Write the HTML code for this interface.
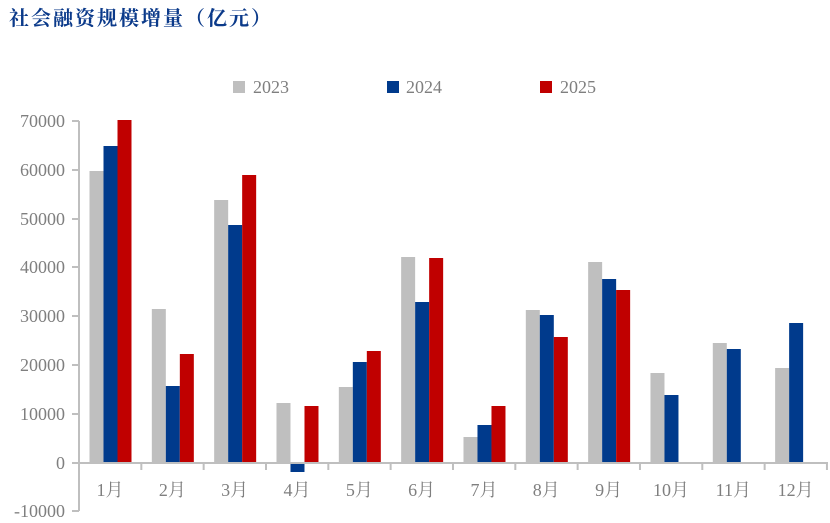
<!DOCTYPE html>
<html><head><meta charset="utf-8"><style>
body{margin:0;background:#fff;}
svg{display:block;}
text{font-family:"Liberation Serif","Noto Serif CJK SC",serif;fill:#7f7f7f;font-size:18px;}
</style></head><body>
<svg width="830" height="523" xmlns="http://www.w3.org/2000/svg">
<text x="9" y="25" style="font-family:'Liberation Serif','Noto Serif CJK SC',serif;font-size:20px;font-weight:bold;fill:#0b3a8a;letter-spacing:2px">社会融资规模增量（亿元）</text>
<rect x="233" y="81" width="12" height="12" fill="#bfbfbf"/><text x="253" y="93">2023</text>
<rect x="387" y="81" width="12" height="12" fill="#003a8c"/><text x="406" y="93">2024</text>
<rect x="540" y="81" width="12" height="12" fill="#c00000"/><text x="560" y="93">2025</text>
<g stroke="#bfbfbf" stroke-width="2" fill="none">
<line x1="79" y1="121" x2="79" y2="511"/>
<line x1="72" y1="121" x2="79" y2="121"/><line x1="72" y1="170" x2="79" y2="170"/><line x1="72" y1="219" x2="79" y2="219"/><line x1="72" y1="267" x2="79" y2="267"/><line x1="72" y1="316" x2="79" y2="316"/><line x1="72" y1="365" x2="79" y2="365"/><line x1="72" y1="414" x2="79" y2="414"/><line x1="72" y1="463" x2="79" y2="463"/><line x1="72" y1="511" x2="79" y2="511"/>
</g>
<g text-anchor="end">
<text x="65" y="127">70000</text><text x="65" y="176">60000</text><text x="65" y="225">50000</text><text x="65" y="273">40000</text><text x="65" y="322">30000</text><text x="65" y="371">20000</text><text x="65" y="420">10000</text><text x="65" y="469">0</text><text x="65" y="517">-10000</text>
</g>
<g id="bars"></g>
<g stroke="#bfbfbf" stroke-width="2" id="ax"><line x1="79" y1="463" x2="828" y2="463"/></g>
<g id="lab" text-anchor="middle"></g>
<script>
var tops=[[171,146,120],[309,386,354],[200,225,175],[403,472,406],[387,362,351],[257,302,258],[437,425,406],[310,315,337],[262,279,290],[373,395,null],[343,349,null],[368,323,null]];
var cols=["#bfbfbf","#003a8c","#c00000"];
var ns="http://www.w3.org/2000/svg",b=document.getElementById("bars"),ax=document.getElementById("ax"),lab=document.getElementById("lab");
for(var i=0;i<12;i++){var L=79+62.33*i;
 for(var s=0;s<3;s++){var t=tops[i][s];if(t==null)continue;var r=document.createElementNS(ns,"rect");
  var y1=Math.min(t,462.5),y2=Math.max(t,462.5);
  r.setAttribute("x",L+10.5+14*s);r.setAttribute("width",14);r.setAttribute("y",y1);r.setAttribute("height",y2-y1);r.setAttribute("fill",cols[s]);b.appendChild(r);}
 var l=document.createElementNS(ns,"line");var X=L+62.33;l.setAttribute("x1",X);l.setAttribute("x2",X);l.setAttribute("y1",463);l.setAttribute("y2",470);ax.appendChild(l);
 var tx=document.createElementNS(ns,"text");tx.setAttribute("x",L+31);tx.setAttribute("y",496);tx.textContent=(i+1)+"月";lab.appendChild(tx);}
</script>
</svg>
</body></html>
